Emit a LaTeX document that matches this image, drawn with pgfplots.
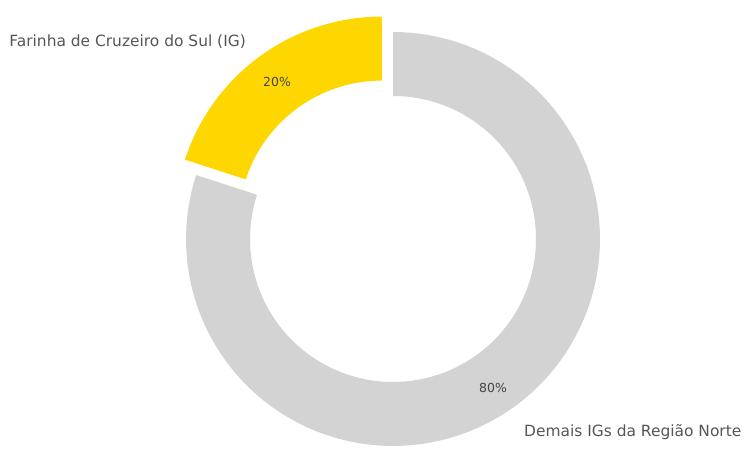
\documentclass[border=0pt]{standalone}
\usepackage{pgfplots}
\pgfplotsset{compat=1.18}
\usepackage{fontspec}
\setmainfont{DejaVu Sans}
\definecolor{gold}{HTML}{FFD700}
\definecolor{lgray}{HTML}{D3D3D3}
\definecolor{txt}{HTML}{555555}
\definecolor{pct}{HTML}{444444}
% data (percent)
\def\valA{20}
\def\valB{80}
\def\Ro{207}
\def\Ri{143}
\pgfmathsetmacro\aA{90}
\pgfmathsetmacro\aB{90+3.6*\valA}
\pgfmathsetmacro\aC{\aB+3.6*\valB}
\begin{document}
\begin{tikzpicture}
\begin{axis}[
  at={(0,0)}, anchor=south west,
  width=747bp, height=450bp, scale only axis,
  xmin=0, xmax=747, ymin=0, ymax=450,
  hide axis, clip=true,
]
% yellow slice (exploded)
\addplot[fill=gold, draw=none, samples=102, domain=0:101, variable=\t]
  ({381.8 + (\t<50.5 ? \Ro : \Ri)*cos(\t<50.5 ? \aA+(\aB-\aA)*\t/50 : \aB-(\aB-\aA)*(\t-51)/50)},
   {226.4 + (\t<50.5 ? \Ro : \Ri)*sin(\t<50.5 ? \aA+(\aB-\aA)*\t/50 : \aB-(\aB-\aA)*(\t-51)/50)});
% gray slice
\addplot[fill=lgray, draw=none, samples=202, domain=0:201, variable=\t]
  ({393 + (\t<100.5 ? \Ro : \Ri)*cos(\t<100.5 ? \aB+(\aC-\aB)*\t/100 : \aC-(\aC-\aB)*(\t-101)/100)},
   {211 + (\t<100.5 ? \Ro : \Ri)*sin(\t<100.5 ? \aB+(\aC-\aB)*\t/100 : \aC-(\aC-\aB)*(\t-101)/100)});
\node[font=\fontsize{12.5}{14}\selectfont, text=pct] at (axis cs:277,368) {20\%};
\node[font=\fontsize{12.5}{14}\selectfont, text=pct] at (axis cs:493,62) {80\%};
\node[font=\fontsize{15.5}{17}\selectfont, text=txt, anchor=east, inner sep=0pt] at (axis cs:246,408) {Farinha de Cruzeiro do Sul (IG)};
\node[font=\fontsize{15.5}{17}\selectfont, text=txt, anchor=west, inner sep=0pt] at (axis cs:524,18) {Demais IGs da Região Norte};
\end{axis}
\pgfresetboundingbox
\useasboundingbox (current axis.south west) rectangle (current axis.north east);
\end{tikzpicture}
\end{document}
